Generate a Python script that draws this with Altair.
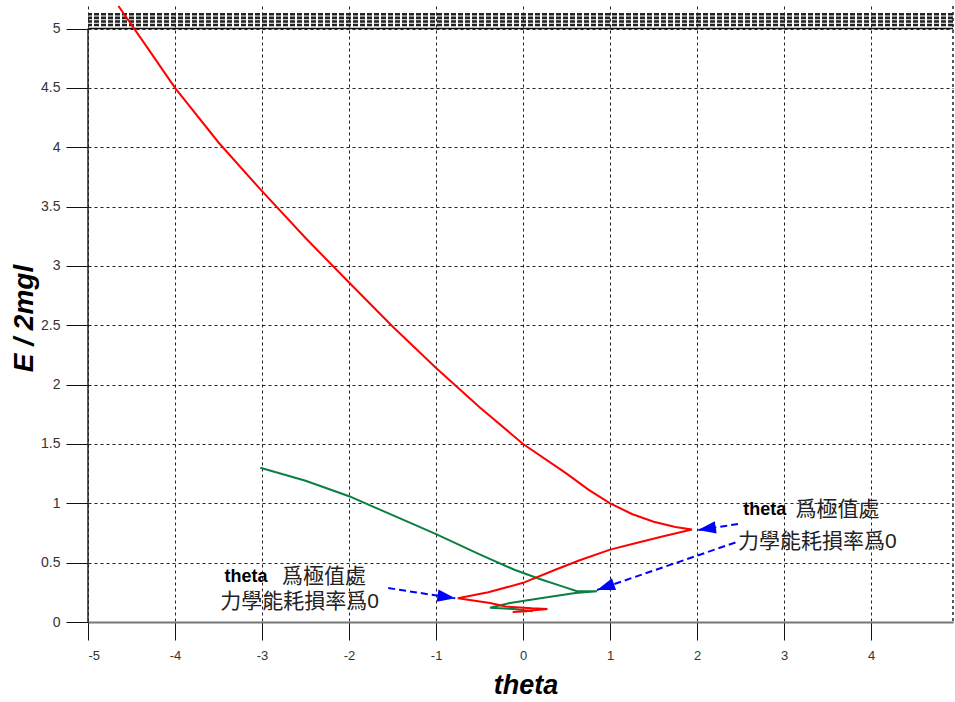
import math
import altair as alt
import pandas as pd

# ---- data -------------------------------------------------------------
# red trajectory: theta vs E/2mgl
red_theta = [-4.65, -4.3, -4.0, -3.5, -3.0, -2.5, -2.0, -1.5, -1.0, -0.5, 0.0, 0.5,
             0.75, 1.0, 1.25, 1.5, 1.75, 1.94, 1.6, 1.3, 1.0, 0.65, 0.37, 0.0,
             -0.4, -0.75, -0.38, -0.2, 0.1, 0.28, 0.0, -0.12, 0.05]
red_energy = [5.19, 4.82, 4.5, 4.04, 3.63, 3.235, 2.86, 2.49, 2.14, 1.81, 1.5, 1.25,
              1.115, 1.0, 0.91, 0.845, 0.8, 0.78, 0.72, 0.665, 0.61, 0.52, 0.44, 0.33,
              0.25, 0.2, 0.16, 0.13, 0.115, 0.11, 0.09, 0.085, 0.09]

# green trajectory
green_theta = [-3.02, -2.5, -2.0, -1.5, -1.0, -0.5, -0.1, 0.2, 0.45, 0.62, 0.85,
               0.6, 0.2, -0.15, -0.38, -0.1, 0.11, 0.0]
green_energy = [1.30, 1.19, 1.06, 0.90, 0.74, 0.57, 0.44, 0.36, 0.30, 0.26, 0.26,
                0.245, 0.2, 0.16, 0.12, 0.11, 0.09, 0.1]

# axis ticks
x_ticks = [-5, -4, -3, -2, -1, 0, 1, 2, 3, 4]
y_ticks = [0, 0.5, 1, 1.5, 2, 2.5, 3, 3.5, 4, 4.5, 5]

# annotation arrows (theta, energy), last point is the tip
arrow_paths = {
    "upper": ([2.47, 2.01], [0.825, 0.775]),
    "lower": ([2.44, 0.85], [0.67, 0.27]),
    "left": ([-1.55, -1.18, -0.78], [0.286, 0.244, 0.20]),
}

# annotation text: (theta, energy, text, kind)
notes = [
    (2.53, 0.945, "theta", "bold"),
    (3.13, 0.945, "爲極值處", "cjk"),
    (2.47, 0.672, "力學能耗損率爲0", "cjk"),
    (-3.43, 0.38, "theta", "bold"),
    (-2.77, 0.38, "爲極值處", "cjk"),
    (-3.48, 0.168, "力學能耗損率爲0", "cjk"),
]

# hatched band rows above the plot top
band_rows = [5.03, 5.06, 5.09, 5.12]

# ---- layout -----------------------------------------------------------
W, H = 865, 616
X_DOM = [-5, 4.94]
Y_DOM = [0, 5.19]
PX_X = W / (X_DOM[1] - X_DOM[0])
PX_Y = H / (Y_DOM[1] - Y_DOM[0])

xs = alt.Scale(domain=X_DOM, nice=False, zero=False)
ys = alt.Scale(domain=Y_DOM, nice=False, zero=False)

FONT = "Liberation Sans"
CJK = "Noto Sans CJK TC"

x_axis = alt.Axis(
    values=x_ticks, grid=True, gridDash=[3, 3], gridColor="#222", gridWidth=1,
    tickSize=18, tickColor="#111", tickWidth=1,
    domain=True, domainColor="#777", domainWidth=2,
    labelFont=FONT, labelFontSize=13, labelColor="#333", labelPadding=9,
    labelExpr="datum.value + ''",
    title="theta", titleFont=FONT, titleFontSize=27, titleFontWeight="bold",
    titleFontStyle="italic", titleColor="#000",
    titleX=W / 2 + 5, titleY=71, titleBaseline="alphabetic", titleAlign="center",
)
y_axis = alt.Axis(
    values=y_ticks, grid=True, gridDash=[3, 3], gridColor="#222", gridWidth=1,
    tickSize=22, tickColor="#111", tickWidth=1, domain=False,
    labelFont=FONT, labelFontSize=14, labelColor="#333", labelPadding=6,
    labelExpr="datum.value + ''",
    title="E / 2mgl", titleFont=FONT, titleFontSize=28, titleFontWeight="bold",
    titleFontStyle="italic", titleColor="#000", titleAngle=270,
    titleX=-64, titleY=312, titleAlign="center", titleBaseline="middle",
)


def X(field):
    return alt.X(field, type="quantitative", scale=xs, axis=x_axis)


def Y(field):
    return alt.Y(field, type="quantitative", scale=ys, axis=y_axis)


red_df = pd.DataFrame({"theta": red_theta, "E": red_energy, "i": range(len(red_theta))})
green_df = pd.DataFrame({"theta": green_theta, "E": green_energy, "i": range(len(green_theta))})

red = alt.Chart(red_df).mark_line(color="#ff0000", strokeWidth=2).encode(
    x=X("theta"), y=Y("E"), order="i:O"
)
green = alt.Chart(green_df).mark_line(color="#0a8040", strokeWidth=2).encode(
    x=X("theta"), y=Y("E"), order="i:O"
)

# left axis line up to E = 5
left_axis = alt.Chart(pd.DataFrame({"theta": [X_DOM[0]], "E": [0], "E2": [5]})).mark_rule(
    color="#222", strokeWidth=1.5
).encode(x=X("theta"), y=Y("E"), y2="E2:Q")

# right border
right_border = alt.Chart(pd.DataFrame({"theta": [X_DOM[1]]})).mark_rule(
    color="#222", strokeDash=[3, 3], strokeWidth=1.5
).encode(x=X("theta"))

# hatched band along the top edge
band = alt.Chart(pd.DataFrame({"E": band_rows})).mark_rule(
    color="#222", strokeDash=[5, 2], strokeWidth=2.6
).encode(y=Y("E"))
band_base = alt.Chart(pd.DataFrame({"E": [5.0]})).mark_rule(
    color="#111", strokeWidth=1.5
).encode(y=Y("E"))

# blue dashed arrows
arrow_rows, head_rows = [], []
for name, (ax, ay) in arrow_paths.items():
    for k, (a, b) in enumerate(zip(ax, ay)):
        arrow_rows.append({"arrow": name, "theta": a, "E": b, "i": k})
    dx = (ax[-1] - ax[-2]) * PX_X
    dy = -(ay[-1] - ay[-2]) * PX_Y
    ang = math.degrees(math.atan2(dx, -dy)) % 360
    head_rows.append({"theta": ax[-1], "E": ay[-1], "ang": ang})

arrow_lines = alt.Chart(pd.DataFrame(arrow_rows)).mark_line(
    color="#0000ff", strokeWidth=2, strokeDash=[7, 4]
).encode(x=X("theta"), y=Y("E"), detail="arrow:N", order="i:O")

arrow_heads = alt.Chart(pd.DataFrame(head_rows)).mark_point(
    shape="M0,0L0.7,2L-0.7,2Z", filled=True, fill="#0000ff", strokeWidth=0,
    opacity=1, size=320,
).encode(x=X("theta"), y=Y("E"), angle=alt.Angle("ang:Q", scale=None))

notes_df = pd.DataFrame(notes, columns=["theta", "E", "text", "kind"])
note_bold = alt.Chart(notes_df[notes_df.kind == "bold"]).mark_text(
    font=FONT, fontSize=18, fontWeight="bold", color="#000", align="left", baseline="middle"
).encode(x=X("theta"), y=Y("E"), text="text:N")
note_cjk = alt.Chart(notes_df[notes_df.kind == "cjk"]).mark_text(
    font=f"{FONT}, {CJK}", fontSize=21, color="#222", align="left", baseline="middle"
).encode(x=X("theta"), y=Y("E"), text="text:N")

chart = alt.layer(
    band, band_base, left_axis, right_border, green, red,
    arrow_lines, arrow_heads, note_bold, note_cjk,
).properties(
    width=W, height=H,
    padding={"left": 88, "top": 6, "right": 2, "bottom": 80},
    autosize=alt.AutoSizeParams(type="none"),
    background="white",
).configure_view(stroke=None)

chart.save("out.html", embed_options={"renderer": "svg", "actions": False})
